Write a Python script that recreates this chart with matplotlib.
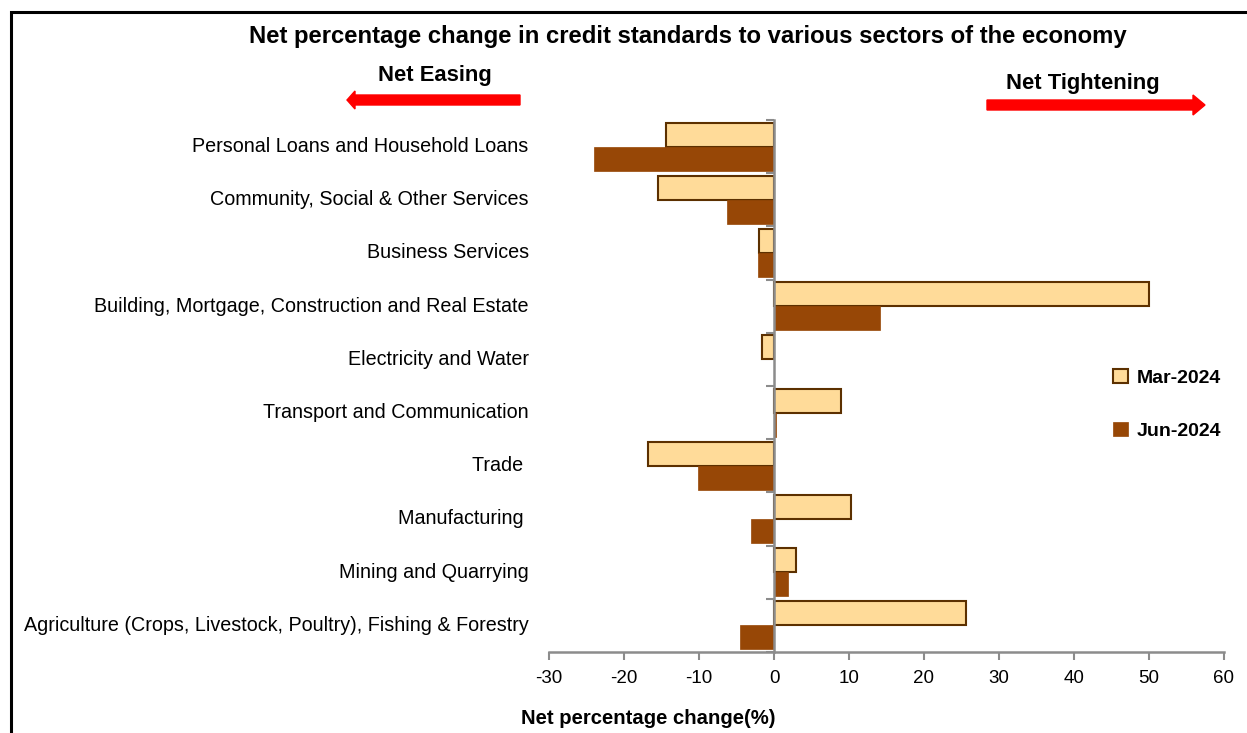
import matplotlib
matplotlib.use('Agg')
import matplotlib.pyplot as plt
import matplotlib.transforms as mtransforms
from matplotlib.patches import Rectangle, FancyArrow
import numpy as np

sectors = ['Personal Loans and Household Loans',
           'Community, Social & Other Services',
           'Business Services',
           'Building, Mortgage, Construction and Real Estate',
           'Electricity and Water',
           'Transport and Communication',
           'Trade ',
           'Manufacturing ',
           'Mining and Quarrying',
           'Agriculture (Crops, Livestock, Poultry), Fishing & Forestry']
mar_2024 = [-14.4, -15.5, -2.0, 50.0, -1.6, 8.9, -16.8, 10.3, 2.9, 25.6]
jun_2024 = [-24.0, -6.3, -2.1, 14.1, 0.0, 0.2, -10.1, -3.1, 1.9, -4.5]
xticks = [-30, -20, -10, 0, 10, 20, 30, 40, 50, 60]

plt.rcParams['font.family'] = ['Liberation Sans', 'DejaVu Sans']

mar_col = '#FFDB99'
jun_col = '#974706'
edge_col = '#5C3000'
axis_col = '#8C8C8C'

fig = plt.figure(figsize=(12.47, 7.33), dpi=100)
ax = fig.add_axes([549/1247, 1 - 652/733, 675/1247, 532/733])

y = np.arange(len(sectors))
h = 0.45
ax.barh(y - h/2, mar_2024, height=h, color=mar_col, edgecolor=edge_col, linewidth=1.5, label='Mar-2024')
ax.barh(y + h/2, jun_2024, height=h, color=jun_col, edgecolor=jun_col, linewidth=0.5, label='Jun-2024')

ax.set_xlim(-30, 60)
ax.set_ylim(len(sectors) - 0.5, -0.5)
ax.set_xticks(xticks)
ax.set_xticklabels([str(t) for t in xticks], fontsize=13.5)
ax.tick_params(axis='x', direction='out', length=6, width=1.5, color=axis_col, pad=7)

ax.spines['top'].set_visible(False)
ax.spines['right'].set_visible(False)
ax.spines['left'].set_position(('data', 0))
for s in ('left', 'bottom'):
    ax.spines[s].set_color(axis_col)
    ax.spines[s].set_linewidth(1.8)
ax.set_yticks([])
ax.set_yticks(np.arange(-0.5, len(sectors)), minor=True)
ax.tick_params(axis='y', which='minor', direction='out', length=6, width=1.5, color=axis_col, labelleft=False)

trans = mtransforms.blended_transform_factory(ax.transAxes, ax.transData)
for i, name in enumerate(sectors):
    ax.text(-0.03, i, name, transform=trans, ha='right', va='center', fontsize=14.2)

ax.legend(loc='center left', bbox_to_anchor=(0.81, 0.465), frameon=False,
          prop={'weight': 'bold', 'size': 14}, handlelength=0.75, handleheight=0.75,
          labelspacing=1.8, handletextpad=0.45)

fig.text(688/1247, 1 - 37/733, 'Net percentage change in credit standards to various sectors of the economy',
         ha='center', va='center', fontsize=17.2, fontweight='bold')
fig.text(435/1247, 1 - 76/733, 'Net Easing', ha='center', va='center', fontsize=15.8, fontweight='bold')
fig.text(1083/1247, 1 - 84/733, 'Net Tightening', ha='center', va='center', fontsize=15.8, fontweight='bold')
fig.text(648/1247, 1 - 718/733, 'Net percentage change(%)', ha='center', va='center', fontsize=14.6,
         fontweight='bold')

# red direction arrows
fig.patches.append(FancyArrow(520/1247, 1 - 100/733, -(173)/1247, 0, width=10/733, head_width=18/733,
                              head_length=8/1247, length_includes_head=True, color='#FF0000',
                              transform=fig.transFigure, figure=fig))
fig.patches.append(FancyArrow(987/1247, 1 - 105/733, 218/1247, 0, width=10/733, head_width=20/733,
                              head_length=12/1247, length_includes_head=True, color='#FF0000',
                              transform=fig.transFigure, figure=fig))

# outer frame
fig.patches.append(Rectangle((11/1247, -0.05), 1.1, 1 - 12/733 + 0.05, fill=False, edgecolor='black',
                             linewidth=2.2, transform=fig.transFigure, figure=fig))

fig.savefig('out.png', dpi=100)
